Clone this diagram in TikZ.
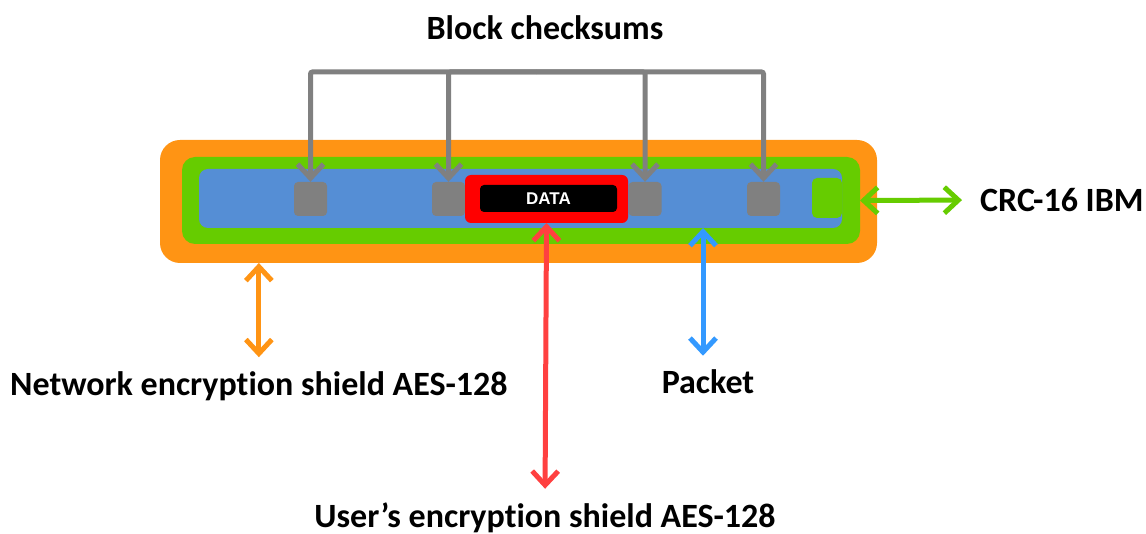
\documentclass[tikz,border=0pt]{standalone}
\usepackage{fontspec}
\setmainfont{Carlito}[Ligatures=NoCommon]
\newfontfamily\datafont{Liberation Sans}
\usepackage{tikz}
\usetikzlibrary{arrows.meta, positioning}
\definecolor{shieldorange}{RGB}{255, 148, 20}
\definecolor{crcgreen}{RGB}{102, 204, 0}
\definecolor{packetblue}{RGB}{85, 142, 213}
\definecolor{sumgray}{RGB}{128, 128, 128}
\definecolor{datared}{RGB}{255, 0, 0}
\definecolor{userred}{RGB}{255, 64, 64}
\definecolor{arrowblue}{RGB}{51, 153, 255}
\tikzstyle{layer} = [rectangle, inner sep=0pt, outer sep=0pt]
\tikzstyle{checksum} = [rectangle, rounded corners=4pt, minimum width=33pt, minimum height=34pt, inner sep=0pt, fill=sumgray]
\tikzstyle{caption} = [inner sep=0pt, font=\fontsize{34}{40}\selectfont\bfseries]
\tikzstyle{arrow} = [line width=5pt, -{Straight Barb[length=14pt,width=26pt]}]
\tikzstyle{twoway} = [line width=5pt, {Straight Barb[length=14pt,width=26pt]}-{Straight Barb[length=14pt,width=26pt]}]

\begin{document}
\begin{tikzpicture}[x=1pt, y=-1pt]
    \useasboundingbox (0,0) rectangle (1146,534);
    % Nodes
    \node (orange) [layer, fill=shieldorange, rounded corners=20pt, minimum width=717pt, minimum height=123pt] at (518.5,201.5) {};
    \node (green) [layer, fill=crcgreen, rounded corners=13pt, minimum width=678pt, minimum height=87pt] at (521,200.5) {};
    \node (blue) [layer, fill=packetblue, rounded corners=9pt, minimum width=643pt, minimum height=59pt] at (520.5,198.5) {};
    \node (crcbox) [layer, fill=crcgreen, rounded corners=5pt, minimum width=30pt, minimum height=40pt] at (827,198) {};
    \node (cs1) [checksum] at (310.5,199) {};
    \node (cs2) [checksum] at (448.5,199) {};
    \node (cs3) [checksum] at (645,199) {};
    \node (cs4) [checksum] at (763.5,199) {};
    \node (frame) [layer, fill=datared, rounded corners=6pt, minimum width=163pt, minimum height=48pt] at (546.5,199) {};
    \node (data) [layer, fill=black, rounded corners=4pt, minimum width=137pt, minimum height=27pt, text=white, font=\datafont\fontsize{17}{20}\selectfont\bfseries] at (548.5,198.5) {DATA};

    \node (sums) [caption] at (545,28) {Block checksums};
    \node (crc) [caption, anchor=west] at (980,200) {CRC-16 IBM};
    \node (net) [caption, anchor=west] at (10,386) {Network encryption shield AES-128};
    \node (packet) [caption] at (708,382) {Packet};
    \node (user) [caption] at (545,518) {User’s encryption shield AES-128};
    \coordinate (bus) at (536,72);

    % Arrows
    \foreach \n in {cs1,cs2,cs3,cs4}
        \draw [arrow, sumgray, rounded corners=2pt] (bus) -| (\n.north);
    \draw [twoway, crcgreen, shorten >=18pt] (green.east) -- (crc.west);
    \draw [twoway, shieldorange, shorten >=14pt] (orange.south -| net.north) -- (net.north);
    \draw [twoway, userred, shorten >=14pt] (frame.south) -- (user.north);
    \draw [twoway, arrowblue, shorten >=14pt] ([xshift=-5pt]blue.south -| packet.north) -- ([xshift=-5pt]packet.north);
\end{tikzpicture}
\end{document}
